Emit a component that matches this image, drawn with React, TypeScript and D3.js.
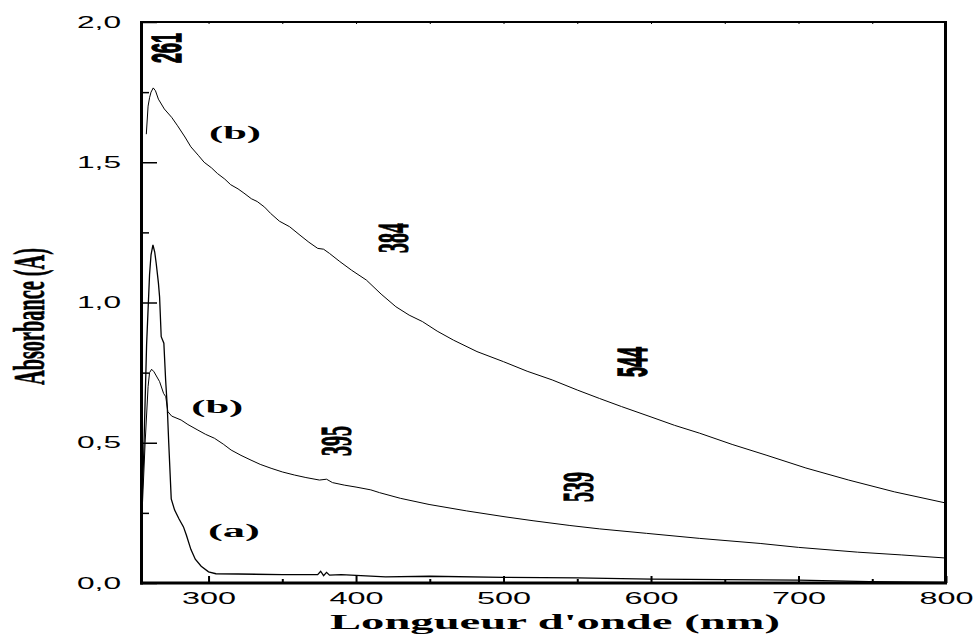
import React, { useEffect, useRef } from "react";
import * as d3 from "d3";

// Axis domains and ticks
const wavelengthDomain: [number, number] = [254.2, 800];
const absorbanceDomain: [number, number] = [0, 2];
const xMajorTicks = [300, 400, 500, 600, 700, 800];
const xMinorTicks = [350, 450, 550, 650, 750];
const yMajorTicks = [0, 0.5, 1.0, 1.5, 2.0];
const yMinorTicks = [0.25, 0.75, 1.25, 1.75];

// Spectrum (a): [wavelength nm, absorbance]
const spectrumA: [number, number][] = [
  [254.5, 0.25], [256, 0.45], [258, 0.85], [260, 1.1], [261, 1.17], [262.3, 1.205],
  [263.5, 1.18], [264.5, 1.14], [266, 1.07], [266.8, 1.02], [267.9, 0.878], [269.7, 0.855],
  [270.9, 0.724], [272, 0.629], [273, 0.5], [274.7, 0.3], [277, 0.26], [280, 0.228],
  [283, 0.2], [285, 0.17], [288, 0.12], [291, 0.085], [295, 0.06], [300, 0.04], [305, 0.033],
  [320, 0.032], [350, 0.03], [374, 0.03], [376, 0.042], [378, 0.026], [380, 0.038],
  [382, 0.028], [390, 0.03], [420, 0.022], [450, 0.024], [500, 0.02], [550, 0.018],
  [600, 0.014], [650, 0.012], [700, 0.01], [748, 0.005], [800, 0.002],
];

// Spectrum (b), lower trace
const spectrumBLow: [number, number][] = [
  [255, 0.26], [257, 0.5], [259, 0.7], [260, 0.75], [261.4, 0.762], [263, 0.753],
  [266.8, 0.718], [269.5, 0.676], [271, 0.664], [272.4, 0.611], [275, 0.595], [281.4, 0.581],
  [286, 0.565], [292.8, 0.545], [298, 0.53], [304, 0.516], [310, 0.495], [315.3, 0.474],
  [322, 0.455], [328.8, 0.438], [335, 0.423], [342.4, 0.409], [350, 0.396], [358.2, 0.385],
  [366, 0.376], [375.2, 0.367], [380, 0.37], [384, 0.358], [392, 0.349], [400, 0.342],
  [410, 0.332], [416, 0.322], [430, 0.302], [449.5, 0.28], [475, 0.257], [501, 0.236],
  [520, 0.222], [545, 0.205], [565, 0.193], [597, 0.177], [633, 0.159], [674, 0.141],
  [700, 0.127], [740, 0.11], [770, 0.1], [800, 0.089],
];

// Spectrum (b), upper trace
const spectrumBHigh: [number, number][] = [
  [257.8, 1.6], [259, 1.7], [260, 1.73], [261, 1.75], [262.5, 1.765], [264, 1.755],
  [266, 1.725], [270, 1.69], [275, 1.66], [279, 1.63], [284, 1.59], [288, 1.555],
  [293, 1.525], [297, 1.5], [302, 1.48], [306, 1.46], [311, 1.44], [315, 1.42],
  [320, 1.405], [324, 1.39], [329, 1.37], [333, 1.36], [338, 1.34], [342, 1.318],
  [348, 1.29], [355, 1.27], [362, 1.24], [368, 1.215], [374, 1.193], [378, 1.19],
  [382, 1.175], [389, 1.146], [397, 1.115], [407, 1.08], [417, 1.03], [427, 0.985],
  [436, 0.955], [445, 0.932], [455, 0.898], [466, 0.866], [482, 0.825], [500, 0.789],
  [516, 0.755], [533, 0.724], [550, 0.688], [565, 0.658], [580, 0.629], [600, 0.592],
  [616, 0.562], [633, 0.534], [655, 0.494], [678, 0.456], [705, 0.41], [734, 0.367],
  [765, 0.325], [800, 0.285],
];

// Peak annotations (vertical); nm = right edge of the glyphs, a = centre along the text
const peakLabels = [
  { text: "261", nm: 281.3, a: 1.907, serif: false },
  { text: "384", nm: 435.5, a: 1.23, serif: true },
  { text: "544", nm: 597.1, a: 0.788, serif: false },
  { text: "395", nm: 396.8, a: 0.506, serif: true },
  { text: "539", nm: 560.9, a: 0.342, serif: true },
];

// Curve names, anchored at their left baseline
const curveNames = [
  { text: "(b)", nm: 300.3, a: 1.583 },
  { text: "(b)", nm: 288.3, a: 0.606 },
  { text: "(a)", nm: 299.6, a: 0.164 },
];

const SERIF = "'Liberation Serif', 'Times New Roman', serif";
const SANS = "'Liberation Sans', Arial, sans-serif";

export default function App() {
  const axesRef = useRef<SVGGElement>(null);

  const x = d3.scaleLinear().domain(wavelengthDomain).range([141, 946]);
  const y = d3.scaleLinear().domain(absorbanceDomain).range([583, 22]);
  const line = d3
    .line<[number, number]>()
    .x((d) => x(d[0]))
    .y((d) => y(d[1]));

  useEffect(() => {
    const root = d3.select(axesRef.current);
    root.selectAll("*").remove();
    const comma = d3.formatLocale({
      decimal: ",",
      thousands: " ",
      grouping: [3],
      currency: ["", ""],
    }).format(".1f");

    const style = (g: d3.Selection<SVGGElement, unknown, null, undefined>, tickW: number) => {
      g.attr("font-size", null).attr("font-family", null);
      g.selectAll(".tick line").attr("stroke", "#000").attr("stroke-width", tickW);
      g.select(".domain").remove();
    };

    // bottom: major ticks + labels
    const gB = root.append("g").attr("transform", "translate(0,583)");
    gB.call(
      d3.axisBottom(x).tickValues(xMajorTicks).tickSizeInner(-7).tickSizeOuter(0)
        .tickPadding(10).tickFormat(d3.format("d"))
    );
    style(gB, 2);
    gB.selectAll(".tick text")
      .attr("fill", "#000")
      .attr("font-family", SANS)
      .attr("font-size", 16)
      .attr("textLength", 54)
      .attr("lengthAdjust", "spacingAndGlyphs");

    const gBm = root.append("g").attr("transform", "translate(0,583)");
    gBm.call(d3.axisBottom(x).tickValues(xMinorTicks).tickSizeInner(-4).tickSizeOuter(0).tickFormat(() => ""));
    style(gBm, 2);

    // left: major ticks + labels
    const gL = root.append("g").attr("transform", "translate(141,0)");
    gL.call(
      d3.axisLeft(y).tickValues(yMajorTicks).tickSizeInner(-16).tickSizeOuter(0)
        .tickPadding(20).tickFormat((d) => comma(d as number))
    );
    style(gL, 1.5);
    gL.selectAll(".tick text")
      .attr("fill", "#000")
      .attr("font-family", SANS)
      .attr("font-size", 16)
      .attr("textLength", 44)
      .attr("lengthAdjust", "spacingAndGlyphs");

    const gLm = root.append("g").attr("transform", "translate(141,0)");
    gLm.call(d3.axisLeft(y).tickValues(yMinorTicks).tickSizeInner(-8).tickSizeOuter(0).tickFormat(() => ""));
    style(gLm, 1.5);

    // top: small inward ticks
    const gT = root.append("g").attr("transform", "translate(0,22)");
    gT.call(
      d3.axisTop(x).tickValues([...xMajorTicks, ...xMinorTicks]).tickSizeInner(-2).tickSizeOuter(0).tickFormat(() => "")
    );
    style(gT, 1);

    // frame
    root.append("line").attr("x1", 141).attr("x2", 946).attr("y1", 22).attr("y2", 22)
      .attr("stroke", "#000").attr("stroke-width", 2);
    root.append("line").attr("x1", 945.5).attr("x2", 945.5).attr("y1", 21).attr("y2", 584)
      .attr("stroke", "#000").attr("stroke-width", 3);
    root.append("line").attr("x1", 141.5).attr("x2", 141.5).attr("y1", 21).attr("y2", 584.5)
      .attr("stroke", "#000").attr("stroke-width", 3);
    root.append("line").attr("x1", 140).attr("x2", 947).attr("y1", 583).attr("y2", 583)
      .attr("stroke", "#000").attr("stroke-width", 3);
  }, []);

  // Vertical text whose glyphs are widened horizontally (stretch along screen x)
  const tallText = (
    key: string | number,
    text: string,
    px: number,
    py: number,
    family: string,
    fontSize: number,
    length: number,
    stretch: number,
    outline: number
  ) => (
    <text
      key={key}
      transform={`translate(${px},${py}) scale(${stretch},1) rotate(-90)`}
      textAnchor="middle"
      fontFamily={family}
      fontWeight="bold"
      fontSize={fontSize}
      textLength={length}
      lengthAdjust="spacingAndGlyphs"
      fill="#000"
      stroke="#000"
      strokeWidth={outline}
    >
      {text}
    </text>
  );

  return (
    <div style={{ position: "absolute", left: 0, top: 0 }}>
      <svg width={976} height={640} style={{ display: "block", background: "#fff" }}>
        <rect width={976} height={640} fill="#fff" />
        <path d={line(spectrumBHigh) ?? ""} fill="none" stroke="#000" strokeWidth={1} />
        <path d={line(spectrumBLow) ?? ""} fill="none" stroke="#000" strokeWidth={1} />
        <path d={line(spectrumA) ?? ""} fill="none" stroke="#000" strokeWidth={1.3} />
        <g ref={axesRef} />

        {peakLabels.map((p, i) =>
          p.serif
            ? tallText(i, p.text, x(p.nm), y(p.a), SERIF, 20, 30, 2.25, 0.5)
            : tallText(i, p.text, x(p.nm), y(p.a), SANS, 18, 30, 2.4, 0.6)
        )}

        {curveNames.map((c, i) => (
          <text
            key={i}
            x={x(c.nm)}
            y={y(c.a)}
            fontFamily={SERIF}
            fontWeight="bold"
            fontSize={18}
            textLength={52}
            lengthAdjust="spacingAndGlyphs"
            fill="#000"
          >
            {c.text}
          </text>
        ))}

        <text
          x={330}
          y={629}
          fontFamily={SERIF}
          fontWeight="bold"
          fontSize={20}
          textLength={450}
          lengthAdjust="spacingAndGlyphs"
          fill="#000"
        >
          Longueur d'onde (nm)
        </text>

        {tallText("ytitle", "Absorbance (A)", 44, 316.5, SERIF, 20.3, 137, 2.2, 0.3)}
      </svg>
    </div>
  );
}
